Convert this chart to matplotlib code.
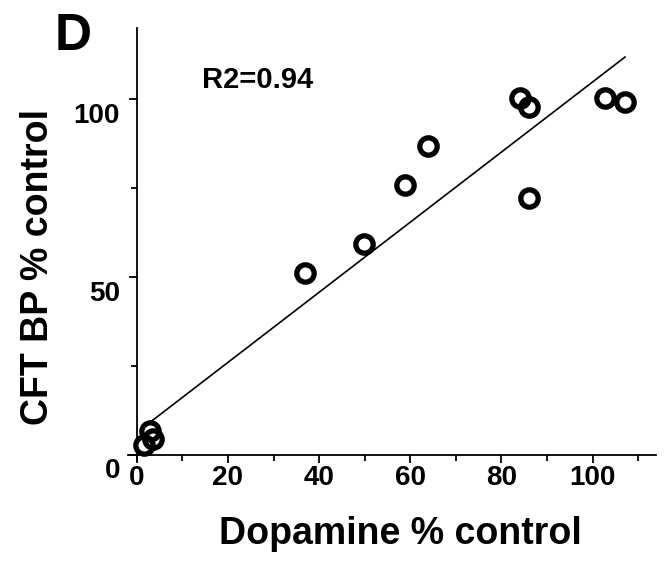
import numpy as np
import matplotlib
matplotlib.use("Agg")
import matplotlib.pyplot as plt
from matplotlib.transforms import ScaledTranslation

plt.rcParams['font.family'] = ['Liberation Sans', 'DejaVu Sans']
plt.rcParams['font.weight'] = 'bold'

dopamine = [1.6, 2.9, 3.6, 36.9, 49.9, 58.8, 63.9, 84.0, 86.0, 86.0, 102.8, 107.1]
cft_bp = [2.8, 6.6, 4.5, 51.2, 59.3, 75.9, 86.9, 100.3, 97.9, 72.3, 100.3, 99.3]
fit_slope = 0.986
fit_intercept = 6.3
r2_text = "R2=0.94"
x_ticks = [0, 20, 40, 60, 80, 100]
y_ticks = [0, 50, 100]

W, H = 668, 564
fig = plt.figure(figsize=(W / 100, H / 100), dpi=100)
ax = fig.add_axes([127.6 / W, 1 - 460.3 / H, (656.5 - 127.6) / W, (460.3 - 28.2) / H])

ax.set_xlim(-2, 114)
ax.set_ylim(-1.5, 120)

for s in ['top', 'right']:
    ax.spines[s].set_visible(False)
ax.spines['left'].set_position(('data', 0))
ax.spines['bottom'].set_position(('data', 0))
for s in ['left', 'bottom']:
    ax.spines[s].set_linewidth(1.3)

xs = np.array([min(dopamine), max(dopamine)])
ax.plot(xs, fit_intercept + fit_slope * xs, color='black', lw=1.2, zorder=2)

ax.plot(dopamine, cft_bp, linestyle='none', marker='o', markersize=12.5,
        markerfacecolor='none', markeredgecolor='black', markeredgewidth=3.8,
        clip_on=False, zorder=3)

ax.set_xticks(x_ticks)
ax.set_yticks(y_ticks)
ax.set_xticks([10, 30, 50, 70, 90, 110], minor=True)
ax.set_yticks([25, 75], minor=True)
ax.tick_params(which='major', direction='out', length=6, width=1.3,
               labelsize=20, colors='black')
ax.tick_params(which='minor', direction='out', length=4, width=1.3)
ax.tick_params(axis='x', which='major', pad=1.5)
ax.tick_params(axis='y', which='major', pad=6)
for lab in ax.get_xticklabels() + ax.get_yticklabels():
    lab.set_fontweight('bold')

offset = ScaledTranslation(0, -13.5 / 100, fig.dpi_scale_trans)
for lab in ax.get_yticklabels():
    lab.set_transform(lab.get_transform() + offset)

fig.text(400 / W, 1 - 534 / H, "Dopamine % control", ha='center', va='center',
         fontsize=27, fontweight='bold')
fig.text(38.5 / W, 1 - 267 / H, "CFT BP % control", ha='center', va='center',
         rotation=90, fontsize=27, fontweight='bold')
fig.text(258 / W, 1 - 80 / H, r2_text, ha='center', va='center',
         fontsize=21, fontweight='bold')
fig.text(73 / W, 1 - 36 / H, "D", ha='center', va='center',
         fontsize=37, fontweight='bold')

fig.savefig("out.png", dpi=100)
